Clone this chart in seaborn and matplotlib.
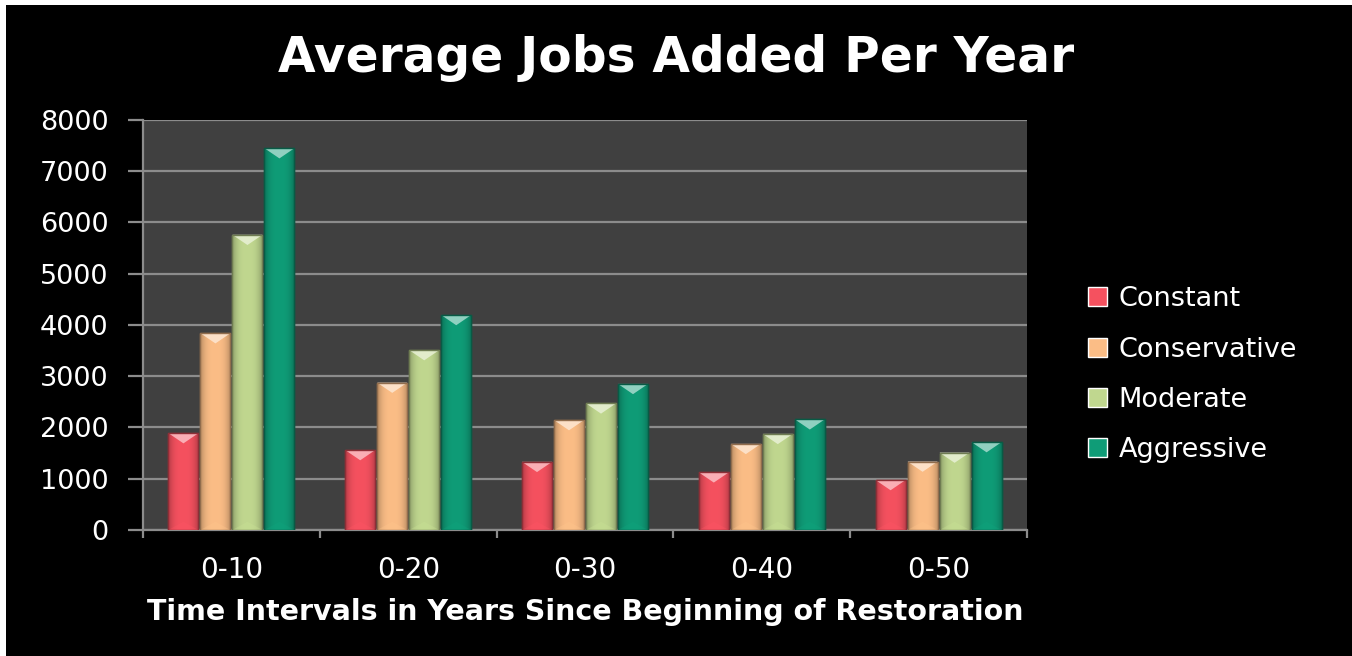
import numpy as np
import pandas as pd
import matplotlib
matplotlib.use("Agg")
import matplotlib.pyplot as plt
import matplotlib.colors as mcolors
from matplotlib.patches import Polygon, Rectangle
import seaborn as sns

# Average jobs added per year, by scenario and time interval
intervals = ["0-10", "0-20", "0-30", "0-40", "0-50"]
constant = [1890, 1560, 1330, 1125, 975]
conservative = [3840, 2875, 2145, 1680, 1335]
moderate = [5760, 3510, 2470, 1875, 1510]
aggressive = [7450, 4195, 2850, 2160, 1715]
scenarios = ["Constant", "Conservative", "Moderate", "Aggressive"]
palette = ["#f5515f", "#fbbd86", "#c0d78f", "#0f9c77"]

df = pd.DataFrame({
    "Interval": np.repeat(intervals, len(scenarios)),
    "Scenario": scenarios * len(intervals),
    "Jobs": [v for row in zip(constant, conservative, moderate, aggressive) for v in row],
})

sns.set_theme(style="dark")
plt.rcParams["font.family"] = ["DejaVu Sans"]

fig = plt.figure(figsize=(13.52, 6.56), dpi=100, facecolor="black")
ax = fig.add_axes([0.1058, 0.1921, 0.6538, 0.625])
ax.set_facecolor("#404040")

sns.barplot(data=df, x="Interval", y="Jobs", hue="Scenario", order=intervals,
            hue_order=scenarios, palette=palette, width=0.724, gap=0.06,
            saturation=1, ax=ax, legend=True, zorder=3)

# Bevelled look on each bar: side shading, lighter top facet
for patch in list(ax.patches):
    if patch.get_height() <= 0:
        continue
    x, y = patch.get_x(), patch.get_y()
    w, h = patch.get_width(), patch.get_height()
    base = np.array(mcolors.to_rgb(patch.get_facecolor()))
    dark = base * 0.72
    light = np.clip(base + (1 - base) * 0.6, 0, 1)
    patch.set_edgecolor(tuple(base * 0.6))
    patch.set_linewidth(1.0)
    # horizontal shading: darker near both sides
    grad = np.linspace(0, 1, 64)
    shade = 1 - 0.28 * (np.abs(grad - 0.5) * 2) ** 3
    img = (base[None, :] * shade[:, None])[None, :, :]
    im = ax.imshow(img, extent=[x, x + w, y, y + h], aspect="auto",
                   interpolation="bilinear", zorder=3.5)
    im.set_clip_path(patch)
    depth = 200
    ax.add_patch(Polygon([[x, y + h], [x + w, y + h], [x + w / 2, y + h - depth]],
                         closed=True, facecolor=tuple(light), edgecolor="none",
                         alpha=0.9, zorder=4))
    ax.add_patch(Polygon([[x, y], [x + w, y], [x + w / 2, y + depth * 0.8]],
                         closed=True, facecolor=tuple(np.clip(base * 1.05, 0, 1)),
                         edgecolor="none", alpha=0.35, zorder=4))
    ax.add_patch(Rectangle((x, y), w, h, facecolor="none",
                           edgecolor=tuple(dark * 0.8), linewidth=1.0, zorder=4.5))

ax.set_ylim(0, 8000)
ax.set_xlim(-0.5, len(intervals) - 0.5)
ax.set_yticks(range(0, 8001, 1000))
ax.yaxis.grid(True, color="#8c8c8c", linewidth=1.6, zorder=0)
ax.xaxis.grid(False)
ax.set_axisbelow(True)

for side in ["top", "right"]:
    ax.spines[side].set_visible(False)
for side in ["left", "bottom"]:
    ax.spines[side].set_color("#8c8c8c")
    ax.spines[side].set_linewidth(1.6)

ax.tick_params(axis="y", which="major", left=True, length=11, width=1.6,
               color="#8c8c8c", pad=14, labelsize=19.5, labelcolor="white")
ax.set_xticks(np.arange(-0.5, len(intervals), 1.0), minor=True)
ax.tick_params(axis="x", which="minor", bottom=True, length=6, width=1.6,
               color="#8c8c8c")
ax.tick_params(axis="x", which="major", bottom=False, length=0, pad=19,
               labelsize=20, labelcolor="white")

ax.set_ylabel("")
ax.set_xlabel("Time Intervals in Years Since Beginning of Restoration",
              color="white", fontsize=20.5, fontweight="bold", labelpad=10)

fig.text(0.5, 0.912, "Average Jobs Added Per Year", ha="center", va="center",
         color="white", fontsize=35, fontweight="bold", family=["DejaVu Sans"])

leg = ax.legend(loc="center left", bbox_to_anchor=(0.7865, 0.429),
                bbox_transform=fig.transFigure, frameon=False, fontsize=19.5,
                labelspacing=0.89, handlelength=0.7, handleheight=0.7,
                handletextpad=0.45, labelcolor="white")

# thin light strips along the top and left edges of the canvas
fig.add_artist(Rectangle((0, 0.992), 1, 0.008, transform=fig.transFigure,
                         facecolor="white", edgecolor="none"))
fig.add_artist(Rectangle((0, 0), 0.0045, 1, transform=fig.transFigure,
                         facecolor="white", edgecolor="none"))

fig.savefig("out.png", dpi=100, facecolor="black")
